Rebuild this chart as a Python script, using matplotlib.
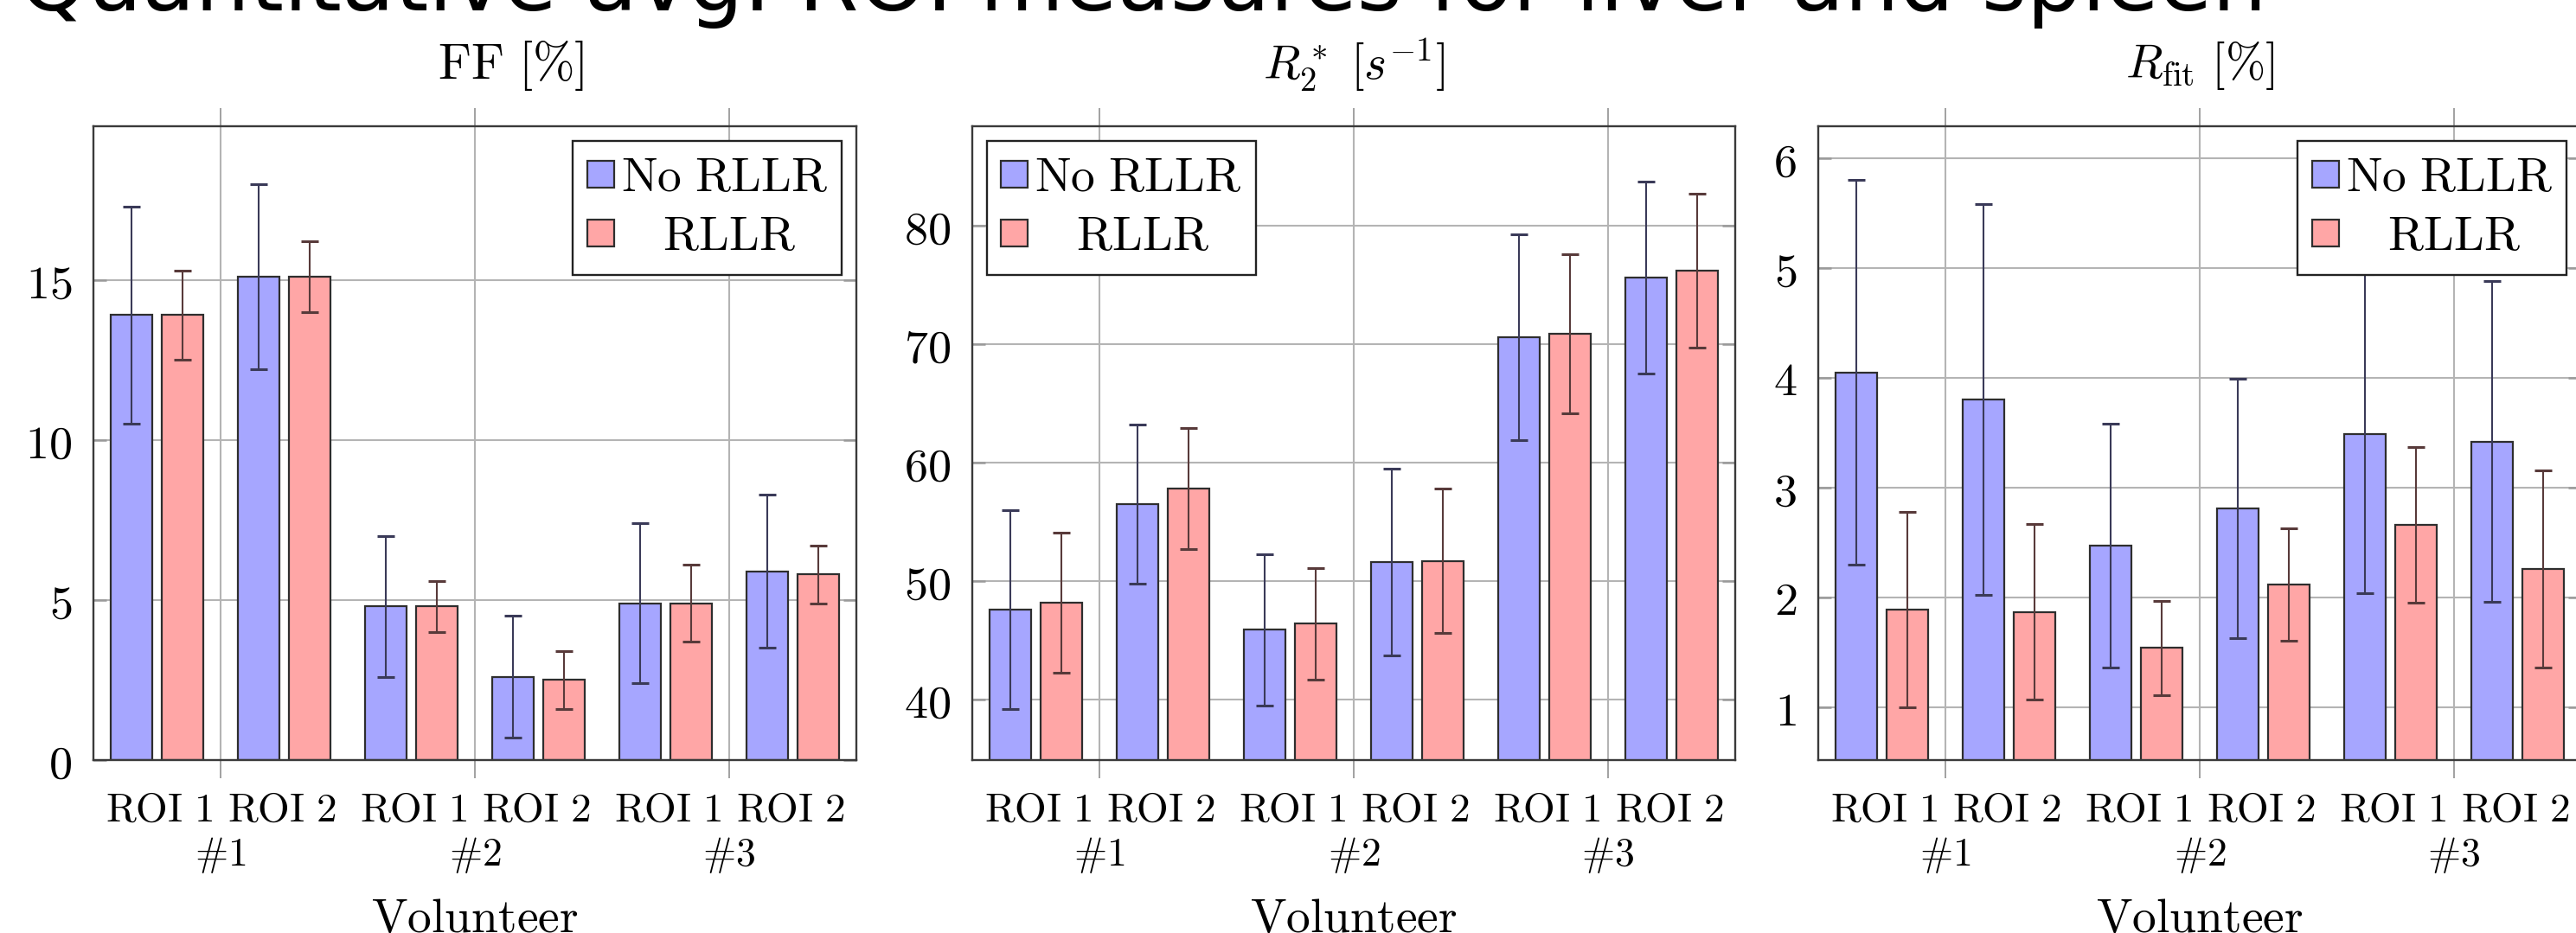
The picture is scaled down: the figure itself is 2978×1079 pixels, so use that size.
import matplotlib
matplotlib.use("Agg")
import matplotlib.pyplot as plt
import numpy as np

plt.rcParams['mathtext.fontset'] = 'cm'

# labels
volunteers = ['#1', '#2', '#3']
rois = ['ROI 1', 'ROI 2']
series_names = ['No RLLR', 'RLLR']
titles = [r'$\mathrm{FF}\ [\%]$', r'$R_2^*\ [s^{-1}]$', r'$R_{\mathrm{fit}}\ [\%]$']

# values ordered V1 ROI1, V1 ROI2, V2 ROI1, V2 ROI2, V3 ROI1, V3 ROI2
ff_no = [13.9, 15.1, 4.8, 2.6, 4.9, 5.9]
ff_no_sd = [3.4, 2.9, 2.2, 1.9, 2.5, 2.4]
ff_rllr = [13.9, 15.1, 4.8, 2.5, 4.9, 5.8]
ff_rllr_sd = [1.4, 1.1, 0.8, 0.9, 1.2, 0.9]

r2_no = [47.6, 56.5, 45.9, 51.6, 70.6, 75.6]
r2_no_sd = [8.4, 6.7, 6.4, 7.9, 8.7, 8.1]
r2_rllr = [48.2, 57.8, 46.4, 51.7, 70.9, 76.2]
r2_rllr_sd = [5.9, 5.1, 4.7, 6.1, 6.7, 6.5]

rfit_no = [4.05, 3.80, 2.47, 2.81, 3.49, 3.42]
rfit_no_sd = [1.75, 1.78, 1.11, 1.18, 1.45, 1.46]
rfit_rllr = [1.89, 1.87, 1.54, 2.12, 2.66, 2.26]
rfit_rllr_sd = [0.89, 0.80, 0.43, 0.51, 0.71, 0.90]

ylims = [(0, 19.8), (34.9, 88.4), (0.52, 6.29)]
yticks = [[0, 5, 10, 15], [40, 50, 60, 70, 80], [1, 2, 3, 4, 5, 6]]
legend_loc = ['upper right', 'upper left', 'upper right']
title_x = [0.547, 0.5, 0.5]
title_size = [42, 40, 40]


def tex(s):
    return r'$\mathrm{' + s.replace(' ', r'\ ').replace('#', r'\#') + '}$'


blue = '#a6a6ff'
red = '#ffa6a6'
edge = '#2e2e2e'
gridc = '#b4b4b4'

fig = plt.figure(figsize=(29.78, 10.79), dpi=100)

fig.text(22 / 2978, 1 - 12 / 1079, 'Quantitative avg. ROI measures for liver and spleen',
         fontsize=72, family='DejaVu Sans', ha='left', va='baseline')

lefts = [108 / 2978, 1124 / 2978, 2102 / 2978]
width = 882 / 2978
bottom = 1 - 879 / 1079
height = 733 / 1079

panels = [(ff_no, ff_no_sd, ff_rllr, ff_rllr_sd),
          (r2_no, r2_no_sd, r2_rllr, r2_rllr_sd),
          (rfit_no, rfit_no_sd, rfit_rllr, rfit_rllr_sd)]

vpos = np.arange(1, len(volunteers) + 1)
roi_x = np.array([v + d for v in vpos for d in (-0.25, 0.25)])
roi_lab_x = np.array([v + d for v in vpos for d in (-0.24, 0.24)])

for i, (no, no_sd, rl, rl_sd) in enumerate(panels):
    ax = fig.add_axes([lefts[i], bottom, width, height])
    ax.bar(roi_x - 0.1, no, 0.165, yerr=no_sd, color=blue, edgecolor=edge, linewidth=1.6,
           label=tex(series_names[0]), zorder=2,
           error_kw=dict(ecolor='#3a3a58', elinewidth=1.5, capsize=7, capthick=2.2))
    ax.bar(roi_x + 0.1, rl, 0.165, yerr=rl_sd, color=red, edgecolor=edge, linewidth=1.6,
           label=tex('   ' + series_names[1]), zorder=2,
           error_kw=dict(ecolor='#583a3a', elinewidth=1.5, capsize=7, capthick=2.2))

    ax.set_xlim(0.5, 3.5)
    ax.set_ylim(*ylims[i])
    ax.set_yticks(yticks[i])
    ax.set_yticklabels(['$%g$' % t for t in yticks[i]])
    ax.set_xticks(vpos)
    ax.set_xticklabels([tex(v) for v in volunteers], fontsize=33)
    ax.set_xticks(roi_lab_x, minor=True)
    ax.set_xticklabels([tex(r) for r in rois] * len(volunteers), minor=True, fontsize=34)
    ax.tick_params(axis='x', which='major', direction='out', length=15, width=1.3,
                   color='#9a9a9a', top=True, bottom=True, pad=48)
    ax.tick_params(axis='x', which='minor', length=0, top=False, pad=26)
    ax.tick_params(axis='y', which='major', direction='in', length=11, width=1.8,
                   color='#9a9a9a', left=True, right=True, labelsize=39, pad=18)
    ax.grid(True, which='major', color=gridc, linewidth=1.5)
    ax.set_axisbelow(True)
    for s in ax.spines.values():
        s.set_color('#3a3a3a')
        s.set_linewidth(1.7)

    ax.text(title_x[i], 1 + 70 / 733, titles[i], transform=ax.transAxes, ha='center',
            va='center', fontsize=title_size[i])
    ax.text(0.5, -(1078 - 879) / 733, tex('Volunteer'), transform=ax.transAxes,
            ha='center', va='baseline', fontsize=40)

    leg = ax.legend(loc=legend_loc[i], fontsize=40, handlelength=0.55, handleheight=0.5,
                    handletextpad=0.15, borderpad=0.3, labelspacing=0.25,
                    borderaxespad=0.3, fancybox=False, framealpha=1)
    leg.get_frame().set_edgecolor('#222222')
    leg.get_frame().set_linewidth(1.7)

fig.savefig('out.png', dpi=100)
